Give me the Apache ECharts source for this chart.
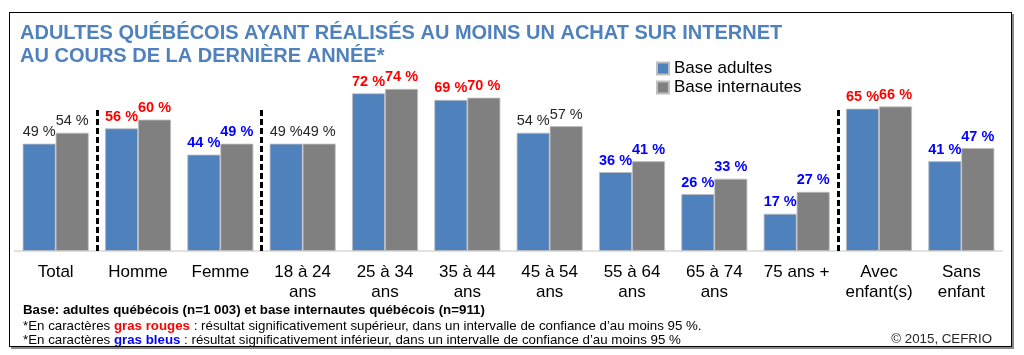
<!DOCTYPE html>
<html>
<head>
<meta charset="utf-8">
<script src="https://cdn.jsdelivr.net/npm/echarts@6/dist/echarts.min.js"></script>
<style>
html,body{margin:0;padding:0;background:#fff;}
#chart{width:1024px;height:355px;position:absolute;left:0;top:0;}
#frame{position:absolute;left:9px;top:12px;width:1001px;height:333px;border:1.5px solid #000;box-shadow:2px 2px 0 #8a8a8a;pointer-events:none;}
</style>
</head>
<body>
<div id="chart"></div>
<div id="frame"></div>
<script>
const categories = ['Total','Homme','Femme','18 à 24\nans','25 à 34\nans','35 à 44\nans','45 à 54\nans','55 à 64\nans','65 à 74\nans','75 ans +','Avec\nenfant(s)','Sans\nenfant'];
const baseAdultes = [49,56,44,49,72,69,54,36,26,17,65,41];
const baseInternautes = [54,60,49,49,74,70,57,41,33,27,66,47];
// n = normal, r = gras rouge (supérieur), b = gras bleu (inférieur)
const significance = ['n','r','b','n','r','r','n','b','b','b','r','b'];
const separators = [1,3,10];
const separatorTop = 64.5;

const sigStyle = {
  n: {color:'#262626', fontWeight:'normal'},
  r: {color:'#FF0000', fontWeight:'bold'},
  b: {color:'#0000FF', fontWeight:'bold'}
};
function buildData(vals){
  return vals.map((v,i)=>({value:v,label:sigStyle[significance[i]]}));
}
const FONT = '"Liberation Sans", Arial, sans-serif';
const FN = 13.3;

const chart = echarts.init(document.getElementById('chart'));
chart.setOption({
  animation:false,
  textStyle:{fontFamily:FONT},
  title:[
    {text:'ADULTES QUÉBÉCOIS AYANT RÉALISÉS AU MOINS UN ACHAT SUR INTERNET\nAU COURS DE LA DERNIÈRE ANNÉE*',
     left:20, top:22, padding:0,
     textStyle:{fontFamily:FONT,fontSize:20,fontWeight:'bold',color:'#4F81BD',lineHeight:23}},
    {text:'Base: adultes québécois (n=1 003) et base internautes québécois (n=911)',
     left:23, top:304, padding:0,
     textStyle:{fontFamily:FONT,fontSize:FN,fontWeight:'bold',color:'#000'}},
    {text:'*En caractères {r|gras rouges} : résultat significativement supérieur, dans un intervalle de confiance d\u2019au moins 95 %.',
     left:23, top:320, padding:0,
     textStyle:{fontFamily:FONT,fontSize:FN,fontWeight:'normal',color:'#000',
       rich:{r:{fontFamily:FONT,fontSize:FN,fontWeight:'bold',color:'#FF0000'}}}},
    {text:'*En caractères {b|gras bleus} : résultat significativement inférieur, dans un intervalle de confiance d\u2019au moins 95 %',
     left:23, top:334, padding:0,
     textStyle:{fontFamily:FONT,fontSize:FN,fontWeight:'normal',color:'#000',
       rich:{b:{fontFamily:FONT,fontSize:FN,fontWeight:'bold',color:'#0000FF'}}}},
    {text:'© 2015, CEFRIO', right:32, top:333, padding:0,
     textStyle:{fontFamily:FONT,fontSize:FN,fontWeight:'normal',color:'#262626'}}
  ],
  legend:{
    orient:'vertical', left:656, top:59, padding:0,
    itemWidth:12, itemHeight:12, itemGap:0, icon:'rect',
    textStyle:{fontFamily:FONT,fontSize:17,color:'#000',lineHeight:19},
    data:['Base adultes','Base internautes']
  },
  grid:{left:14.5, right:21.5, top:32, bottom:104},
  xAxis:[
    {type:'category', data:categories,
     axisLine:{lineStyle:{color:'#D9D9D9',width:1.5}}, axisTick:{show:false},
     axisLabel:{fontFamily:FONT,fontSize:17,color:'#000',lineHeight:20,margin:11,interval:0}},
    {type:'value', min:0, max:12, show:false}
  ],
  yAxis:{type:'value', min:0, max:100, show:false, splitLine:{show:false}},
  series:[
    {name:'Base adultes', type:'bar', data:buildData(baseAdultes),
     barWidth:33, barGap:'0%',
     itemStyle:{color:'#4F81BD',borderColor:'#BFBFBF',borderWidth:0.8},
     label:{show:true,position:'top',distance:4,fontFamily:FONT,fontSize:14.5,formatter:'{c} %'}},
    {name:'Base internautes', type:'bar', data:buildData(baseInternautes),
     barWidth:33, barGap:'0%',
     itemStyle:{color:'#808080',borderColor:'#BFBFBF',borderWidth:0.8},
     label:{show:true,position:'top',distance:4,fontFamily:FONT,fontSize:14.5,formatter:'{c} %'}},
    {name:'sep', type:'line', xAxisIndex:1, yAxisIndex:0, data:[], silent:true,
     markLine:{silent:true, symbol:['none','none'], label:{show:false},
       lineStyle:{color:'#000',width:3,type:[6,3]},
       data:separators.map(s=>[{coord:[s,0]},{coord:[s,separatorTop]}])}}
  ]
});
</script>
</body>
</html>
